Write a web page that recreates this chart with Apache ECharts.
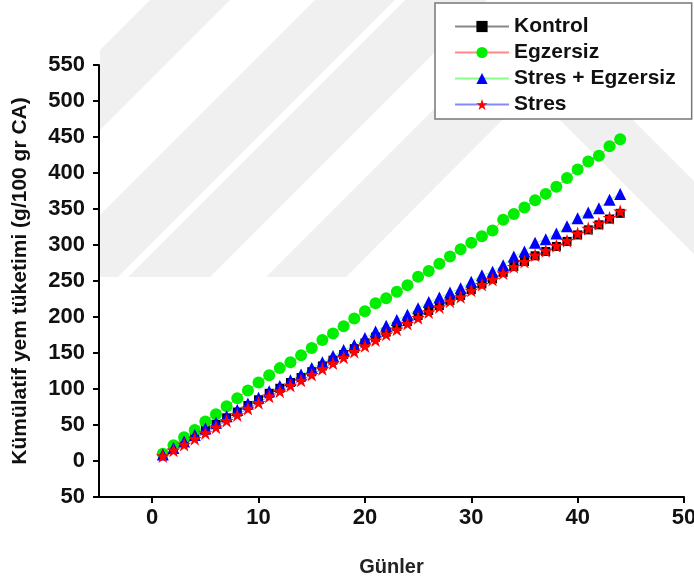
<!DOCTYPE html>
<html>
<head>
<meta charset="utf-8">
<script src="https://cdn.jsdelivr.net/npm/echarts@6/dist/echarts.min.js"></script>
<style>
html,body{margin:0;padding:0;background:#fff;}
#chart{width:694px;height:580px;}
</style>
</head>
<body>
<div id="chart"></div>
<script>
const days = [1,2,3,4,5,6,7,8,9,10,11,12,13,14,15,16,17,18,19,20,21,22,23,24,25,26,27,28,29,30,31,32,33,34,35,36,37,38,39,40,41,42,43,44];
const kontrol = [8,17,26,34,43,51,60,68,77,85,94,101,109,116,124,132,140,148,156,164,172,179,187,194,202,209,216,223,230,238,246,253,262,270,277,285,291,298,305,314,321,328,336,344];
const egzersiz = [10,22,33,43,55,65,76,87,98,109,119,129,137,147,157,168,177,187,198,208,219,226,235,244,256,264,274,284,294,303,312,320,335,343,352,362,371,381,393,405,416,424,437,447];
const stresEgzersiz = [9,18,27,36,45,53,62,71,80,88,97,104,112,120,129,137,146,154,161,171,180,188,196,203,212,221,227,234,240,249,258,263,272,284,291,303,308,316,326,337,345,351,363,371];
const stres = [7,15,23,31,39,47,56,64,73,81,90,97,105,112,120,128,136,144,152,160,168,176,183,191,199,207,214,222,228,237,245,252,261,270,277,286,292,299,306,316,323,330,338,347];
const xTicks = [0,10,20,30,40,50];
const seriesNames = ['Kontrol','Egzersiz','Stres + Egzersiz','Stres'];

const FONT = 'Liberation Sans, Arial, sans-serif';
const STAR = 'path://M50,0 L61.2,34.5 L97.6,34.5 L68.2,55.9 L79.4,90.5 L50,69.1 L20.6,90.5 L31.8,55.9 L2.4,34.5 L38.8,34.5 Z';

function pts(vals){ return days.map((d,i)=>[d, vals[i]]); }

const chart = echarts.init(document.getElementById('chart'), null, {renderer:'canvas'});
const wm = '#f0f0f0';
function band(points){ return {type:'polygon', z:-10, silent:true, shape:{points:points}, style:{fill:wm}}; }
chart.setOption({
  animation:false,
  backgroundColor:'#fff',
  graphic:[
    band([[528,15],[694,181],[694,254],[531,91],[346,277],[266,277]]),
    band([[405,0],[487,0],[210,277],[128,277]]),
    band([[315,0],[395,0],[118,277],[100,277],[100,215]]),
    band([[150,0],[230,0],[100,130],[100,50]])
  ],
  grid:{left:99,right:10,top:65,bottom:83,containLabel:false,outerBoundsMode:'none'},
  legend:{
    orient:'vertical', left:435, top:3,
    padding:[13,16,4,19],
    itemWidth:54, itemHeight:14, itemGap:5,
    backgroundColor:'#fff',
    borderColor:'#777', borderWidth:1.5,
    textStyle:{fontFamily:FONT, fontWeight:'bold', fontSize:21, color:'#111'},
    data:seriesNames
  },
  xAxis:{
    type:'value', min:-5, max:50,
    name:'Günler', nameLocation:'middle', nameGap:60,
    nameTextStyle:{fontFamily:FONT, fontWeight:'bold', fontSize:20, color:'#222'},
    axisLine:{show:true, onZero:false, lineStyle:{color:'#000', width:2}},
    axisTick:{show:true, customValues:xTicks, length:6, lineStyle:{color:'#000', width:2}},
    axisLabel:{customValues:xTicks, fontFamily:FONT, fontWeight:'bold', fontSize:22, color:'#111', margin:10},
    splitLine:{show:false}
  },
  yAxis:{
    type:'value', min:-50, max:550, interval:50,
    name:'Kümülatif yem tüketimi (g/100 gr CA)', nameLocation:'middle', nameGap:68,
    nameTextStyle:{fontFamily:FONT, fontWeight:'bold', fontSize:21, color:'#111'},
    axisLine:{show:true, onZero:false, lineStyle:{color:'#000', width:2}},
    axisTick:{show:true, length:6, lineStyle:{color:'#000', width:2}},
    axisLabel:{fontFamily:FONT, fontWeight:'bold', fontSize:22, color:'#111', margin:14,
      formatter:v=>String(Math.abs(v))},
    splitLine:{show:false}
  },
  series:[
    {name:seriesNames[0], type:'line', data:pts(kontrol), symbol:'rect', symbolSize:9,
     itemStyle:{color:'#000'}, lineStyle:{color:'#888', width:1}},
    {name:seriesNames[1], type:'line', data:pts(egzersiz), symbol:'circle', symbolSize:12,
     itemStyle:{color:'#00ee00'}, lineStyle:{color:'#ff8888', width:1}},
    {name:seriesNames[2], type:'line', data:pts(stresEgzersiz), symbol:'triangle', symbolSize:12,
     itemStyle:{color:'#0000ff'}, lineStyle:{color:'#88ff88', width:1}},
    {name:seriesNames[3], type:'line', data:pts(stres), symbol:STAR, symbolSize:14,
     itemStyle:{color:'#ff0000'}, lineStyle:{color:'#8888ff', width:1}}
  ]
});
</script>
</body>
</html>
